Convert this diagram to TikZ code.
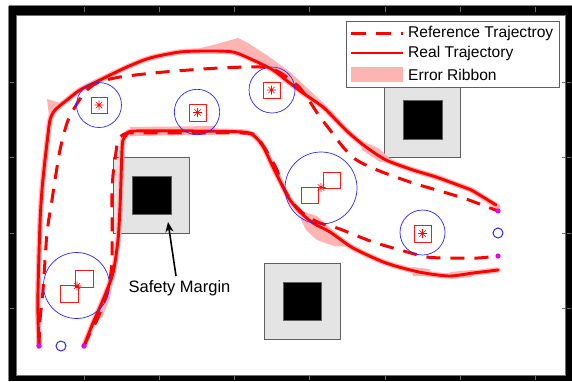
\documentclass[tikz,border=0pt]{standalone}
\usepackage{fontspec}
\setmainfont{Liberation Sans}
\usetikzlibrary{arrows.meta}
\definecolor{rib}{RGB}{255,180,180}
\definecolor{obst}{RGB}{228,228,228}
\definecolor{obstline}{RGB}{95,95,95}
\definecolor{mag}{RGB}{235,0,235}
\definecolor{safeblue}{RGB}{40,40,255}
\definecolor{tickgray}{RGB}{110,110,110}
\tikzset{
  refpath/.style={red, line width=3pt, dash pattern=on 14pt off 10pt},
  realpath/.style={red, line width=2.9pt, line join=round, line cap=round},
  ribbon/.style={rib, line width=5.5pt, line join=round, line cap=round},
  ribfill/.style={fill=rib, draw=none},
  marginbox/.style={fill=obst, draw=obstline, line width=0.8pt},
  corebox/.style={fill=black, draw=obstline, line width=0.5pt},
  safecirc/.style={draw=safeblue, line width=0.7pt},
  mbox/.style={draw=red!90, line width=0.8pt},
  startpt/.style={fill=mag},
  tickmark/.style={draw=tickgray, line width=0.6pt},
  astpic/.pic={\draw[red, line width=0.6pt] (-4.5,0)--(4.5,0) (0,-4.5)--(0,4.5) (-3.2,-3.2)--(3.2,3.2) (-3.2,3.2)--(3.2,-3.2);},
  legtext/.style={anchor=west, font=\fontsize{15.6}{18}\selectfont, inner sep=0pt},
}
\begin{document}
\begin{tikzpicture}[x=1pt,y=-1pt]
\useasboundingbox (0,0) rectangle (572,381);
\fill[white] (0,0) rectangle (572,381);
% frame
\fill[black] (9,6) rectangle (572,381);
\draw[gray, line width=0.6pt] (8.5,5.5) -- (572,5.5);
\draw[gray, line width=0.6pt] (8.5,5.5) -- (8.5,381);
\fill[white] (16,15) rectangle (565.5,375.5);
\draw[tickgray, line width=0.8pt] (16,15) rectangle (565.5,375.5);
% ticks
\foreach \tx in {84,159,234,309,385,460,535}{
  \draw[tickmark] (\tx,7) -- (\tx,12);
  \draw[tickmark] (\tx,376) -- (\tx,380);
}
\foreach \ty in {82,157,233,308}{
  \draw[tickmark] (10,\ty) -- (14,\ty);
  \draw[tickmark] (562,\ty) -- (565,\ty);
  \draw[tickmark] (567,\ty) -- (571,\ty);
}
% obstacles
\draw[marginbox] (113,157) rectangle (189,233);
\draw[corebox] (132,176) rectangle (171,214);
\draw[marginbox] (384.5,81.5) rectangle (460.5,157.5);
\draw[corebox] (403,100) rectangle (442,139);
\draw[marginbox] (264,263) rectangle (340,339);
\draw[corebox] (283,282) rectangle (321,320);

% ribbons (outer)
\draw[ribbon] plot[smooth, tension=0.45] coordinates {(39,346) (38,317) (38,290) (40,223) (42,190) (45,160) (47,143) (50,120) (55,110) (67,100) (80,90) (100,80) (127,67) (150,58) (180,52) (207,51) (233,52) (253,60) (273,70) (286,80) (303,93) (323,107) (336,120) (349,133) (366,147) (386,160) (413,170) (436,177) (466,188) (473,191) (498,207)};
\fill[ribfill] (180,53) -- (217,44) -- (238,38) -- (248,43) -- (268,56) -- (290,72) -- (305,86) -- (320,100) -- (335,114) -- (323,110) -- (286,82) -- (265,66) -- (245,56) -- (215,52) -- cycle;
\fill[ribfill] (47,99) -- (49,116) -- (64,104) -- cycle;
\fill[ribfill] (44,150) -- (48,120) -- (52,122) -- (48,152) -- cycle;
\fill[ribfill] (360,140) -- (378,148) -- (392,160) -- (380,162) -- (362,150) -- cycle;
% ribbons (inner)
\draw[ribbon] plot[smooth, tension=0.45] coordinates {(84,346) (93,323) (103,300) (113,273) (118,240) (120,207) (121,180) (122,150) (123,140) (127,134) (135,131) (200,131) (243,132) (253,135) (260,142) (265,150) (273,167) (283,187) (290,200) (300,212) (313,223) (330,232) (353,248) (386,263) (419,272) (449,276) (473,273) (498,270)};
\fill[ribfill] (130,127) -- (215,126) -- (215,135) -- (130,136) -- cycle;
\fill[ribfill] (300,211) -- (317,216) -- (328,226) -- (343,239) -- (351,247) -- (334,246) -- (317,240) -- (306,230) -- (301,220) -- cycle;
\fill[ribfill] (96,318) -- (104,298) -- (111,272) -- (115,270) -- (110,298) -- (102,318) -- cycle;
\fill[ribfill] (412,267) -- (430,269) -- (430,276) -- (413,276) -- cycle;
\fill[ribfill] (450,272) -- (472,270) -- (472,277) -- (450,279) -- cycle;

% reference (dashed) trajectories
\draw[refpath] plot[smooth, tension=0.45] coordinates {(39,346) (40,320) (43,290) (47,233) (52,200) (55,180) (60,150) (67,123) (75,107) (85,92) (97,83) (120,77) (164,72) (219,68) (260,67) (275,70) (288,78) (300,88) (310,102) (320,117) (330,130) (343,147) (355,159) (370,167) (390,175) (416,184) (440,191) (466,199) (498,211)};
\draw[refpath] plot[smooth, tension=0.45] coordinates {(84,346) (90,333) (97,320) (102,307) (107,293) (110,280) (112,260) (112,233) (112,207) (112,193) (113,175) (115,160) (117,145) (120,137) (127,133) (140,133) (243,133) (255,136) (262,144) (270,157) (277,170) (283,187) (292,202) (305,215) (320,223) (337,228) (350,233) (373,242) (400,250) (427,257) (449,258) (478,258) (498,256)};
% real trajectories
\draw[realpath] plot[smooth, tension=0.45] coordinates {(39,346) (38,317) (38,290) (40,223) (42,190) (45,160) (47,143) (50,120) (55,110) (67,100) (80,90) (100,80) (127,67) (150,58) (180,52) (207,51) (233,52) (253,60) (273,70) (286,80) (303,93) (323,107) (336,120) (349,133) (366,147) (386,160) (413,170) (436,177) (466,188) (473,191) (496,205)};
\draw[realpath] plot[smooth, tension=0.45] coordinates {(84,346) (93,323) (103,300) (113,273) (118,240) (120,207) (121,180) (122,150) (123,140) (127,134) (135,131) (200,131) (243,132) (253,135) (260,142) (265,150) (273,167) (283,187) (290,200) (300,212) (313,223) (330,232) (353,248) (386,263) (419,272) (449,276) (473,273) (498,270)};

% safety circles and markers
\draw[safecirc] (99,105) circle[radius=22.5];
\draw[mbox] (91,97) rectangle (107,113);
\pic at (99,105) {astpic};
\draw[safecirc] (197,112) circle[radius=22.7];
\draw[mbox] (189,104) rectangle (206,121);
\pic at (197.5,112.5) {astpic};
\draw[safecirc] (272,90) circle[radius=23];
\draw[mbox] (263.5,82) rectangle (280,98);
\pic at (271.5,90) {astpic};
\draw[safecirc] (321,188) circle[radius=36];
\draw[mbox] (323,172) rectangle (340,188);
\draw[mbox] (301,187) rectangle (318,203);
\pic at (321,187.5) {astpic};
\draw[safecirc] (422.5,232.5) circle[radius=22.5];
\draw[mbox] (414,225) rectangle (431,242);
\pic at (422.5,233.5) {astpic};
\draw[safecirc] (76.5,285.5) circle[radius=33];
\draw[mbox] (75,270) rectangle (93,287);
\draw[mbox] (60,285) rectangle (78,302);
\pic at (77,286) {astpic};
% goal circles
\draw[safecirc, line width=1pt] (61,346) circle[radius=5];
\draw[safecirc, line width=1pt] (498,233) circle[radius=5];
% start / end points
\fill[startpt] (39,346) circle[radius=2.6];
\fill[startpt] (84,346) circle[radius=2.6];
\fill[startpt] (498,211) circle[radius=2.6];
\fill[startpt] (498,256) circle[radius=2.6];

% annotation
\node[font=\fontsize{16.5}{19}\selectfont, inner sep=1pt] (sm) at (179.5,288) {Safety Margin};
\coordinate (smtip) at (168,222);
\draw[black, line width=1.6pt, -{Stealth[length=10pt,width=8pt]}] (176,276) -- (smtip);

% legend
\node[draw=obstline, fill=white, line width=0.8pt, minimum width=213pt, minimum height=66pt, anchor=north west, inner sep=0pt] (leg) at (346,21) {};
\draw[red, line width=3pt, dash pattern=on 15pt off 10pt] (351,33) -- (403,33);
\draw[red, line width=2.9pt] (351,53) -- (403,53);
\fill[rib] (351,67) rectangle (403,82);
\node[legtext] (l1) at (408,33) {Reference Trajectroy};
\node[legtext] (l2) at (408,53) {Real Trajectory};
\node[legtext] (l3) at (408,75) {Error Ribbon};
\end{tikzpicture}
\end{document}
